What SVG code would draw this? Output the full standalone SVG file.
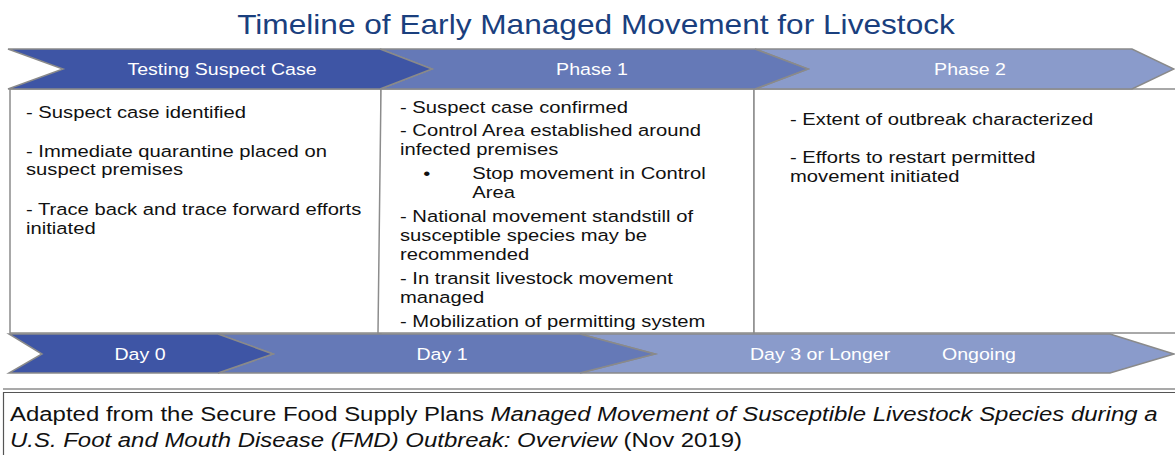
<svg xmlns="http://www.w3.org/2000/svg" width="1175" height="455" viewBox="0 0 1175 455">
<style>
.chev{stroke:#8a8a8a;stroke-width:1.5;stroke-linejoin:miter}
.c1{fill:#3e55a5}
.c2{fill:#6579b7}
.c3{fill:#8a9bcb}
.box{fill:#ffffff;stroke:#8c8c8c;stroke-width:1.5}
.lbl{font-family:"Liberation Sans",Arial,sans-serif;font-size:16.3px;fill:#ffffff;text-anchor:middle}
.body{font-family:"Liberation Sans",Arial,sans-serif;font-size:16.5px;fill:#111111}
.title{font-family:"Liberation Sans",Arial,sans-serif;font-size:28px;fill:#1a3f7e;text-anchor:middle}
.foot{font-family:"Liberation Sans",Arial,sans-serif;font-size:19.8px;fill:#111111}
</style>
<rect width="1175" height="455" fill="#ffffff"/>
<text class="title" transform="translate(596,34) scale(1.13,1)">Timeline of Early Managed Movement for Livestock</text>

<g id="boxes">
  <g id="col1"><rect class="box" x="10" y="89" width="371" height="244"/></g>
  <g id="col2"><polygon class="box" points="381,89 754,89 754,333 378,333"/></g>
  <g id="col3"><rect class="box" x="754" y="89" width="430" height="244"/></g>
</g>

<g id="phase2">
  <polygon class="chev c3" points="755,49 1132,49 1174,69 1132,89 755,89 808,69"/>
  <text class="lbl" transform="translate(970,75) scale(1.2,1)">Phase 2</text>
</g>
<g id="phase1">
  <polygon class="chev c2" points="380,49 755,49 808,69 755,89 380,89 432,69"/>
  <text class="lbl" transform="translate(592,75) scale(1.2,1)">Phase 1</text>
</g>
<g id="testing">
  <polygon class="chev c1" points="8,49 380,49 432,69 380,89 8,89 63,69"/>
  <text class="lbl" transform="translate(222,75) scale(1.2,1)">Testing Suspect Case</text>
</g>

<g id="day3">
  <polygon class="chev c3" points="580,334 1110,334 1174,354 1110,373 580,373 655,354"/>
  <text class="lbl" style="text-anchor:start" transform="translate(750,360) scale(1.2,1)">Day 3 or Longer</text>
  <text class="lbl" style="text-anchor:start" transform="translate(942,360) scale(1.2,1)">Ongoing</text>
</g>
<g id="day1">
  <polygon class="chev c2" points="218,334 580,334 655,354 580,373 218,373 273,354"/>
  <text class="lbl" transform="translate(442,360) scale(1.2,1)">Day 1</text>
</g>
<g id="day0">
  <polygon class="chev c1" points="9,334 218,334 273,354 218,373 9,373 42,354"/>
  <text class="lbl" transform="translate(140,360) scale(1.2,1)">Day 0</text>
</g>

<g id="col1-text" transform="translate(26,0) scale(1.225,1)">
  <text class="body" x="0" y="118">- Suspect case identified</text>
  <text class="body" x="0" y="157.5">- Immediate quarantine placed on</text>
  <text class="body" x="0" y="175.5">suspect premises</text>
  <text class="body" x="0" y="215">- Trace back and trace forward efforts</text>
  <text class="body" x="0" y="234">initiated</text>
</g>
<g id="col2-text" transform="translate(400,0) scale(1.225,1)">
  <text class="body" x="0" y="113">- Suspect case confirmed</text>
  <text class="body" x="0" y="136">- Control Area established around</text>
  <text class="body" x="0" y="155">infected premises</text>
  <text class="body" x="19" y="179.5">•</text>
  <text class="body" x="59" y="179.5">Stop movement in Control</text>
  <text class="body" x="59" y="198.5">Area</text>
  <text class="body" x="0" y="222">- National movement standstill of</text>
  <text class="body" x="0" y="241.5">susceptible species may be</text>
  <text class="body" x="0" y="260">recommended</text>
  <text class="body" x="0" y="284">- In transit livestock movement</text>
  <text class="body" x="0" y="303">managed</text>
  <text class="body" x="0" y="327">- Mobilization of permitting system</text>
</g>
<g id="col3-text" transform="translate(790,0) scale(1.225,1)">
  <text class="body" x="0" y="125">- Extent of outbreak characterized</text>
  <text class="body" x="0" y="163.5">- Efforts to restart permitted</text>
  <text class="body" x="0" y="182.5">movement initiated</text>
</g>

<g id="footer">
  <line x1="3" y1="389" x2="1175" y2="389" stroke="#555555" stroke-width="1.2"/>
  <line x1="3" y1="392.5" x2="1175" y2="392.5" stroke="#555555" stroke-width="1.2"/>
  <line x1="3.5" y1="392" x2="3.5" y2="455" stroke="#555555" stroke-width="1.2"/>
  <g transform="translate(10,0) scale(1.21,1)">
    <text class="foot" x="0" y="421">Adapted from the Secure Food Supply Plans <tspan font-style="italic">Managed Movement of Susceptible Livestock Species during a</tspan></text>
    <text class="foot" x="0" y="447"><tspan font-style="italic">U.S. Foot and Mouth Disease (FMD) Outbreak: Overview</tspan> (Nov 2019)</text>
  </g>
</g>
</svg>
